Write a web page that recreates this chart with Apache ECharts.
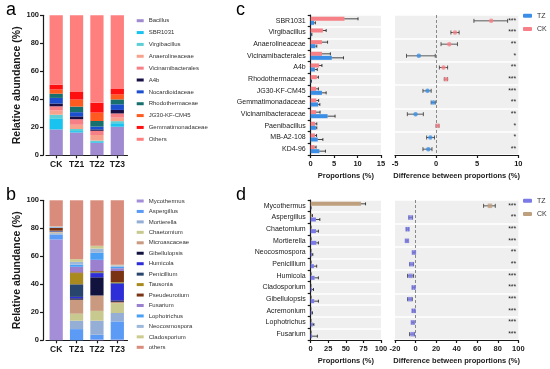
<!DOCTYPE html>
<html><head><meta charset="utf-8">
<script src="https://cdn.jsdelivr.net/npm/echarts@6/dist/echarts.min.js"></script>
<style>html,body{margin:0;padding:0;background:#fff}#c{width:550px;height:369px}</style>
</head><body><div id="c"></div>
<script>
// ---------- data ----------
const groups = ['CK', 'TZ1', 'TZ2', 'TZ3'];
const yTicks = [0, 20, 40, 60, 80, 100];

// panel a: bacteria relative abundance (%), columns = CK, TZ1, TZ2, TZ3
const bacteriaTaxa = ['Bacillus','SBR1031','Virgibacillus','Anaerolineaceae','Vicinamibacterales','A4b','Nocardioidaceae','Rhodothermaceae','JG30-KF-CM45','Gemmatimonadaceae','Others'];
const bacteriaAbundance = [
  [18.5, 16.3, 9, 20.4],
  [7.5, 1, 0.5, 2.5],
  [3, 1.5, 1, 1.5],
  [3, 3, 4, 2.5],
  [3, 4, 3, 3],
  [2, 2, 1, 2.5],
  [4, 3, 2, 4],
  [3, 4, 4, 3.5],
  [3, 5, 6, 3.5],
  [3.5, 5.5, 7, 4],
  [49.5, 54.7, 62.5, 52.6]
];
const bacteriaColors = ['#A08BD0','#19C3F0','#5CCFD6','#F7A28C','#F77F86','#1A0F45','#1B4FD0','#17706E','#FF5A1F','#FF1010','#FF7F7F'];

// panel b: fungi relative abundance (%)
const fungiTaxa = ['Mycothermus','Aspergillus','Mortierella','Chaetomium','Microascaceae','Gibellulopsis','Humicola','Penicillium','Tausonia','Pseudeurotium','Fusarium','Lophotrichus','Neocosmospora','Cladosporium','others'];
const fungiAbundance = [
  [72, 0, 0.5, 0.5],
  [3.5, 8, 3.5, 13],
  [1, 6, 10, 6],
  [0.5, 5, 7, 7],
  [0.5, 10, 11, 1],
  [0.2, 1, 13, 1],
  [0.2, 1, 3, 12],
  [0.2, 9, 0.5, 0.5],
  [0.2, 8, 0.5, 0.5],
  [2, 0.5, 0.5, 8],
  [0.2, 4, 8, 2],
  [0.3, 1.5, 5, 1],
  [0.3, 2, 3, 1],
  [0.3, 2, 2, 0.5],
  [18.6, 42, 32.5, 46]
];
const fungiColors = ['#A58ED8','#5B9BF5','#94AED6','#C8C98E','#C99A80','#12123E','#2E2ED8','#28456E','#A88A1E','#7A3414','#9C80D0','#4AA0F5','#9CB8DA','#CDCB90','#D98C7C'];

// panel c: bacteria CK vs TZ
const cTaxa = ['SBR1031','Virgibacillus','Anaerolineaceae','Vicinamibacterales','A4b','Rhodothermaceae','JG30-KF-CM45','Gemmatimonadaceae','Vicinamibacteraceae','Paenibacillus','MB-A2-108','KD4-96'];
const cPropCK = [7.2, 2.6, 2.4, 2.4, 1.8, 1.3, 1.15, 1.2, 1.15, 0.9, 0.9, 0.85];
const cErrCK  = [2.9, 0.7, 1.2, 1.8, 0.6, 0.35, 0.5, 0.5, 0.85, 0.4, 0.35, 0.3];
const cPropTZ = [0.7, 0.15, 1.0, 4.5, 0.9, 0.1, 2.4, 1.6, 3.6, 1.1, 1.5, 1.85];
const cErrTZ  = [0.3, 0.1, 0.3, 2.5, 0.5, 0.05, 0.9, 0.35, 1.6, 0.2, 1.1, 1.3];
const cDiff = [6.7, 2.3, 1.6, -2.1, 0.9, 1.2, -1.05, -0.35, -2.5, 0.2, -0.7, -0.95];
const cLow  = [4.6, 1.8, 0.6, -3.6, 0.4, 1.0, -1.6, -0.6, -3.5, 0.0, -1.15, -1.6];
const cHigh = [8.7, 2.8, 2.6, -0.1, 1.4, 1.4, -0.6, -0.1, -1.55, 0.35, -0.2, -0.5];
const cSig = ['***','***','**','*','**','***','***','**','**','*','*','**'];

// panel d: fungi CK vs TZ
const dTaxa = ['Mycothermus','Aspergillus','Chaetomium','Mortierella','Neocosmospora','Penicillium','Humicola','Cladosporium','Gibellulopsis','Acremonium','Lophotrichus','Fusarium'];
const dPropCK = [71.5, 1.5, 0.3, 0.3, 0.2, 0.3, 0.3, 0.2, 0.3, 0.1, 0.2, 0.3];
const dErrCK  = [6.5, 1, 0.2, 0.2, 0.1, 0.2, 0.2, 0.1, 0.2, 0.1, 0.1, 0.2];
const dPropTZ = [0.3, 7.5, 7.5, 8, 2, 4.5, 5.5, 2, 5, 1.5, 3, 2];
const dErrTZ  = [0.2, 5.5, 3.5, 3, 1, 4, 5.5, 2, 6, 1, 1.5, 7.5];
const dDiff = [72.4, -4.9, -7.8, -8.4, -1.6, -3.9, -4.9, -1.9, -5.5, -1.9, -2.6, -2.9];
const dLow  = [66.2, -6.5, -8.8, -9.4, -2.6, -5.8, -7.8, -2.9, -7.8, -2.9, -3.6, -5.8];
const dHigh = [77.6, -2.9, -6.8, -7.4, -0.6, -1.9, -1.9, -0.9, -3.2, -0.9, -1.6, -1.0];
const dSig = ['***','**','***','***','**','**','***','***','***','***','***','***'];

// ---------- styles ----------
const FONT = '"Liberation Sans", Arial, sans-serif';
const INK = '#1a1a1a';
const cColorCK = '#F77F86', cColorTZ = '#3A8EE6';
const dColorCK = '#BFA07E', dColorTZ = '#7B7BE8';
const BAND = '#EFEFEF';

function barErr(offset) {
  return function (params, api) {
    const v = api.value(0), i = api.value(1), e = api.value(2);
    const a = api.coord([v, i]), b = api.coord([v + e, i]);
    const y = a[1] + offset;
    return { type: 'group', children: [
      { type: 'line', shape: { x1: a[0], y1: y, x2: b[0], y2: y }, style: { stroke: INK, lineWidth: 0.8 } },
      { type: 'line', shape: { x1: b[0], y1: y - 1.5, x2: b[0], y2: y + 1.5 }, style: { stroke: INK, lineWidth: 0.8 } }
    ]};
  };
}
function ciRender(params, api) {
  const lo = api.value(0), hi = api.value(1), i = api.value(2);
  const a = api.coord([lo, i]), b = api.coord([hi, i]);
  const y = a[1];
  return { type: 'group', children: [
    { type: 'line', shape: { x1: a[0], y1: y, x2: b[0], y2: y }, style: { stroke: '#333', lineWidth: 0.8 } },
    { type: 'line', shape: { x1: a[0], y1: y - 2, x2: a[0], y2: y + 2 }, style: { stroke: '#333', lineWidth: 0.8 } },
    { type: 'line', shape: { x1: b[0], y1: y - 2, x2: b[0], y2: y + 2 }, style: { stroke: '#333', lineWidth: 0.8 } }
  ]};
}

const axisLine = { show: true, lineStyle: { color: INK, width: 1.2 } };
const axisTick = { show: true, length: 3, lineStyle: { color: INK, width: 1.2 } };
const tickLabel = { fontSize: 7.5, fontWeight: 'bold', color: INK, fontFamily: FONT };

function stackX(grid) {
  return { type: 'category', gridIndex: grid, data: groups, axisLine, axisTick: Object.assign({ alignWithLabel: true }, axisTick),
    axisLabel: { fontSize: 8.5, fontWeight: 'bold', color: INK, margin: 5, fontFamily: FONT } };
}
function stackY(grid) {
  return { type: 'value', gridIndex: grid, min: yTicks[0], max: yTicks[yTicks.length - 1], interval: 20, offset: 3,
    name: 'Relative abundance (%)', nameLocation: 'middle', nameGap: 17,
    nameTextStyle: { fontSize: 10.5, fontWeight: 'bold', color: INK, fontFamily: FONT },
    axisLine, axisTick, splitLine: { show: false }, axisLabel: Object.assign({ margin: 4 }, tickLabel) };
}
function propX(grid, max, interval) {
  return { type: 'value', gridIndex: grid, min: 0, max, interval, axisLine, axisTick, splitLine: { show: false },
    name: 'Proportions (%)', nameLocation: 'middle', nameGap: 17,
    nameTextStyle: { fontSize: 7.5, fontWeight: 'bold', color: INK, fontFamily: FONT },
    axisLabel: Object.assign({ margin: 5 }, tickLabel) };
}
function diffX(grid, min, max, interval) {
  return { type: 'value', gridIndex: grid, min, max, interval, axisLine, axisTick, splitLine: { show: false },
    name: 'Difference between proportions (%)', nameLocation: 'middle', nameGap: 17,
    nameTextStyle: { fontSize: 7.5, fontWeight: 'bold', color: INK, fontFamily: FONT },
    axisLabel: Object.assign({ margin: 5 }, tickLabel) };
}
const bandArea = { show: true, areaStyle: { color: [BAND, BAND] } };
const bandLine = { show: true, lineStyle: { color: '#fff', width: 1.6 } };
function taxaY(grid, data, showLabels) {
  return { type: 'category', gridIndex: grid, data, inverse: true,
    axisLine: showLabels ? axisLine : { show: false },
    axisTick: showLabels ? axisTick : { show: false },
    axisLabel: showLabels ? { fontSize: 7, color: INK, margin: 5, fontFamily: FONT } : { show: false },
    splitArea: bandArea, splitLine: bandLine };
}
function sigY(grid, data) {
  return { type: 'category', gridIndex: grid, data, inverse: true, position: 'right',
    axisLine: { show: false }, axisTick: { show: false }, splitLine: { show: false },
    axisLabel: { inside: true, fontSize: 7, color: '#222', margin: 2, fontFamily: FONT } };
}

const series = [];
bacteriaTaxa.forEach((name, k) => series.push({ type: 'bar', name, stack: 'a', xAxisIndex: 0, yAxisIndex: 0,
  barWidth: '65%', data: bacteriaAbundance[k], itemStyle: { color: bacteriaColors[k] } }));
fungiTaxa.forEach((name, k) => series.push({ type: 'bar', name, stack: 'b', xAxisIndex: 1, yAxisIndex: 1,
  barWidth: '65%', data: fungiAbundance[k], itemStyle: { color: fungiColors[k] } }));

function comparison(xL, yL, xR, yR, ckP, ckE, tzP, tzE, diff, lo, hi, colCK, colTZ, sym) {
  series.push({ type: 'bar', name: 'CK', xAxisIndex: xL, yAxisIndex: yL, data: ckP, barWidth: 4, barGap: '0%', itemStyle: { color: colCK } });
  series.push({ type: 'bar', name: 'TZ', xAxisIndex: xL, yAxisIndex: yL, data: tzP, barWidth: 4, barGap: '0%', itemStyle: { color: colTZ } });
  series.push({ type: 'custom', xAxisIndex: xL, yAxisIndex: yL, encode: { x: 0, y: 1 }, z: 5,
    data: ckP.map((v, i) => [v, i, ckE[i]]), renderItem: barErr(-2) });
  series.push({ type: 'custom', xAxisIndex: xL, yAxisIndex: yL, encode: { x: 0, y: 1 }, z: 5,
    data: tzP.map((v, i) => [v, i, tzE[i]]), renderItem: barErr(2) });
  series.push({ type: 'custom', xAxisIndex: xR, yAxisIndex: yR, encode: { x: [0, 1], y: 2 }, z: 4,
    data: lo.map((v, i) => [v, hi[i], i]), renderItem: ciRender });
  series.push({ type: 'scatter', name: 'CK', xAxisIndex: xR, yAxisIndex: yR, symbol: sym, symbolSize: 4.5, z: 6,
    itemStyle: { color: colCK }, data: diff.map((d, i) => [d, i]).filter(p => p[0] >= 0),
    markLine: { silent: true, symbol: ['none', 'none'], label: { show: false },
      lineStyle: { type: [3, 2], color: '#888', width: 1 }, data: [{ xAxis: 0 }] } });
  series.push({ type: 'scatter', name: 'TZ', xAxisIndex: xR, yAxisIndex: yR, symbol: sym, symbolSize: 4.5, z: 6,
    itemStyle: { color: colTZ }, data: diff.map((d, i) => [d, i]).filter(p => p[0] < 0) });
}
comparison(2, 2, 3, 3, cPropCK, cErrCK, cPropTZ, cErrTZ, cDiff, cLow, cHigh, cColorCK, cColorTZ, 'circle');
comparison(4, 5, 5, 6, dPropCK, dErrCK, dPropTZ, dErrTZ, dDiff, dLow, dHigh, dColorCK, dColorTZ, 'rect');

const legendText = { fontSize: 6, color: '#333', lineHeight: 8, fontFamily: FONT };
const option = {
  animation: false,
  textStyle: { fontFamily: FONT },
  grid: [
    { left: 46, top: 15.3, width: 81.5, height: 140 },
    { left: 46, top: 200.3, width: 81.5, height: 140 },
    { left: 310.7, top: 15, width: 70.3, height: 140 },
    { left: 395, top: 15, width: 123.3, height: 140 },
    { left: 310.7, top: 200, width: 70.3, height: 140 },
    { left: 395, top: 200, width: 123.3, height: 140 }
  ],
  xAxis: [stackX(0), stackX(1), propX(2, 15, 5), diffX(3, -5, 10, 5), propX(4, 100, 25), diffX(5, -20, 100, 20)],
  yAxis: [stackY(0), stackY(1), taxaY(2, cTaxa, true), taxaY(3, cTaxa, false), sigY(3, cSig),
          taxaY(4, dTaxa, true), taxaY(5, dTaxa, false), sigY(5, dSig)],
  legend: [
    { orient: 'vertical', left: 136.7, top: 16.7, padding: 0, itemWidth: 7, itemHeight: 3, itemGap: 3.86, icon: 'rect',
      data: bacteriaTaxa, textStyle: legendText, selectedMode: false },
    { orient: 'vertical', left: 136.7, top: 197, padding: 0, itemWidth: 7, itemHeight: 3, itemGap: 2.45, icon: 'rect',
      data: fungiTaxa, textStyle: legendText, selectedMode: false },
    { orient: 'vertical', left: 523, top: 11.7, padding: 0, itemWidth: 9, itemHeight: 4, itemGap: 5.3, icon: 'roundRect',
      data: [{ name: 'TZ', itemStyle: { color: cColorTZ } }, { name: 'CK', itemStyle: { color: cColorCK } }],
      textStyle: Object.assign({}, legendText, { fontSize: 7 }), selectedMode: false },
    { orient: 'vertical', left: 523, top: 196.7, padding: 0, itemWidth: 9, itemHeight: 4, itemGap: 5.3, icon: 'roundRect',
      data: [{ name: 'TZ', itemStyle: { color: dColorTZ } }, { name: 'CK', itemStyle: { color: dColorCK } }],
      textStyle: Object.assign({}, legendText, { fontSize: 7 }), selectedMode: false }
  ],
  graphic: [
    { type: 'text', left: 6, top: 1, style: { text: 'a', fontSize: 18, fill: '#000', font: '18px ' + FONT } },
    { type: 'text', left: 6, top: 186, style: { text: 'b', fontSize: 18, fill: '#000', font: '18px ' + FONT } },
    { type: 'text', left: 236, top: 1, style: { text: 'c', fontSize: 18, fill: '#000', font: '18px ' + FONT } },
    { type: 'text', left: 236, top: 186, style: { text: 'd', fontSize: 18, fill: '#000', font: '18px ' + FONT } }
  ],
  series
};
const chart = echarts.init(document.getElementById('c'), null, { renderer: 'canvas' });
chart.setOption(option);
</script>
</body></html>
